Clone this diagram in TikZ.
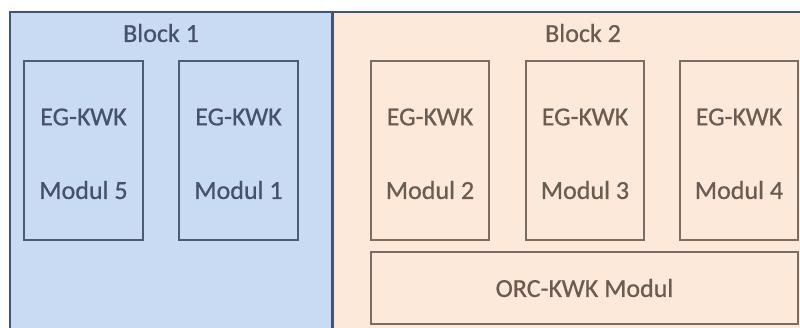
\documentclass[tikz,border=0pt]{standalone}
\usepackage{fontspec}
\setmainfont{Carlito}
\newfontface\lblfont{Carlito}[FakeBold=0.7]
\definecolor{bluefill}{HTML}{C9DBF2}
\definecolor{peachfill}{HTML}{FDE9DA}
\definecolor{frameblue}{HTML}{435574}
\definecolor{bluetext}{HTML}{44536A}
\definecolor{bluebox}{HTML}{4C5C74}
\definecolor{browntext}{HTML}{6A5C50}
\definecolor{brownbox}{HTML}{7C6D60}
\begin{document}
\begin{tikzpicture}[x=1pt,y=-1pt,
  lbl/.style={font=\lblfont\fontsize{26}{30}\selectfont, inner sep=0pt, anchor=center},
  bluemod/.style={draw=bluebox, line width=2pt, fill=bluefill, inner sep=0pt},
  brownmod/.style={draw=brownbox, line width=2pt, fill=peachfill, inner sep=0pt}]
\useasboundingbox (0,0) rectangle (800,327);
\clip (0,0) rectangle (800,327);
\fill[white] (0,0) rectangle (800,327);
% blocks
\node[fill=bluefill, inner sep=0pt, minimum width=322pt, minimum height=330pt, anchor=north west] (b1) at (10,12) {};
\node[fill=peachfill, inner sep=0pt, minimum width=480pt, minimum height=330pt, anchor=north west] (b2) at (332,12) {};
\draw[frameblue, line width=2.2pt] (b1.south west) -- (b1.north west) -- (b2.north east);
\draw[frameblue, line width=2.2pt] (b1.north east) -- (b1.south east);
\node[lbl, text=bluetext] (t1) at (161,33) {Block 1};
\node[lbl, text=browntext] (t2) at (583,33) {Block 2};
% block 1 modules
\node[bluemod, minimum width=119pt, minimum height=179pt, anchor=north west] (m5) at (23,60) {};
\node[bluemod, minimum width=119pt, minimum height=179pt, anchor=north west] (m1) at (178,60) {};
\foreach \m/\n in {m5/5, m1/1}{
  \node[lbl, text=bluetext] (\m a) at ([yshift=-57pt]\m.north) {EG-KWK};
  \node[lbl, text=bluetext] (\m b) at ([yshift=-130pt]\m.north) {Modul \n};
}
% block 2 modules
\node[brownmod, minimum width=118pt, minimum height=179pt, anchor=north west] (m2) at (370,60) {};
\node[brownmod, minimum width=118pt, minimum height=179pt, anchor=north west] (m3) at (525,60) {};
\node[brownmod, minimum width=118pt, minimum height=179pt, anchor=north west] (m4) at (679,60) {};
\foreach \m/\n in {m2/2, m3/3, m4/4}{
  \node[lbl, text=browntext] (\m a) at ([yshift=-57pt]\m.north) {EG-KWK};
  \node[lbl, text=browntext] (\m b) at ([yshift=-130pt]\m.north) {Modul \n};
}
\node[brownmod, minimum width=427pt, minimum height=72pt, anchor=north west] (orc) at (370,251) {};
\node[lbl, text=browntext] (orct) at (orc.center) {ORC-KWK Modul};
\end{tikzpicture}
\end{document}
